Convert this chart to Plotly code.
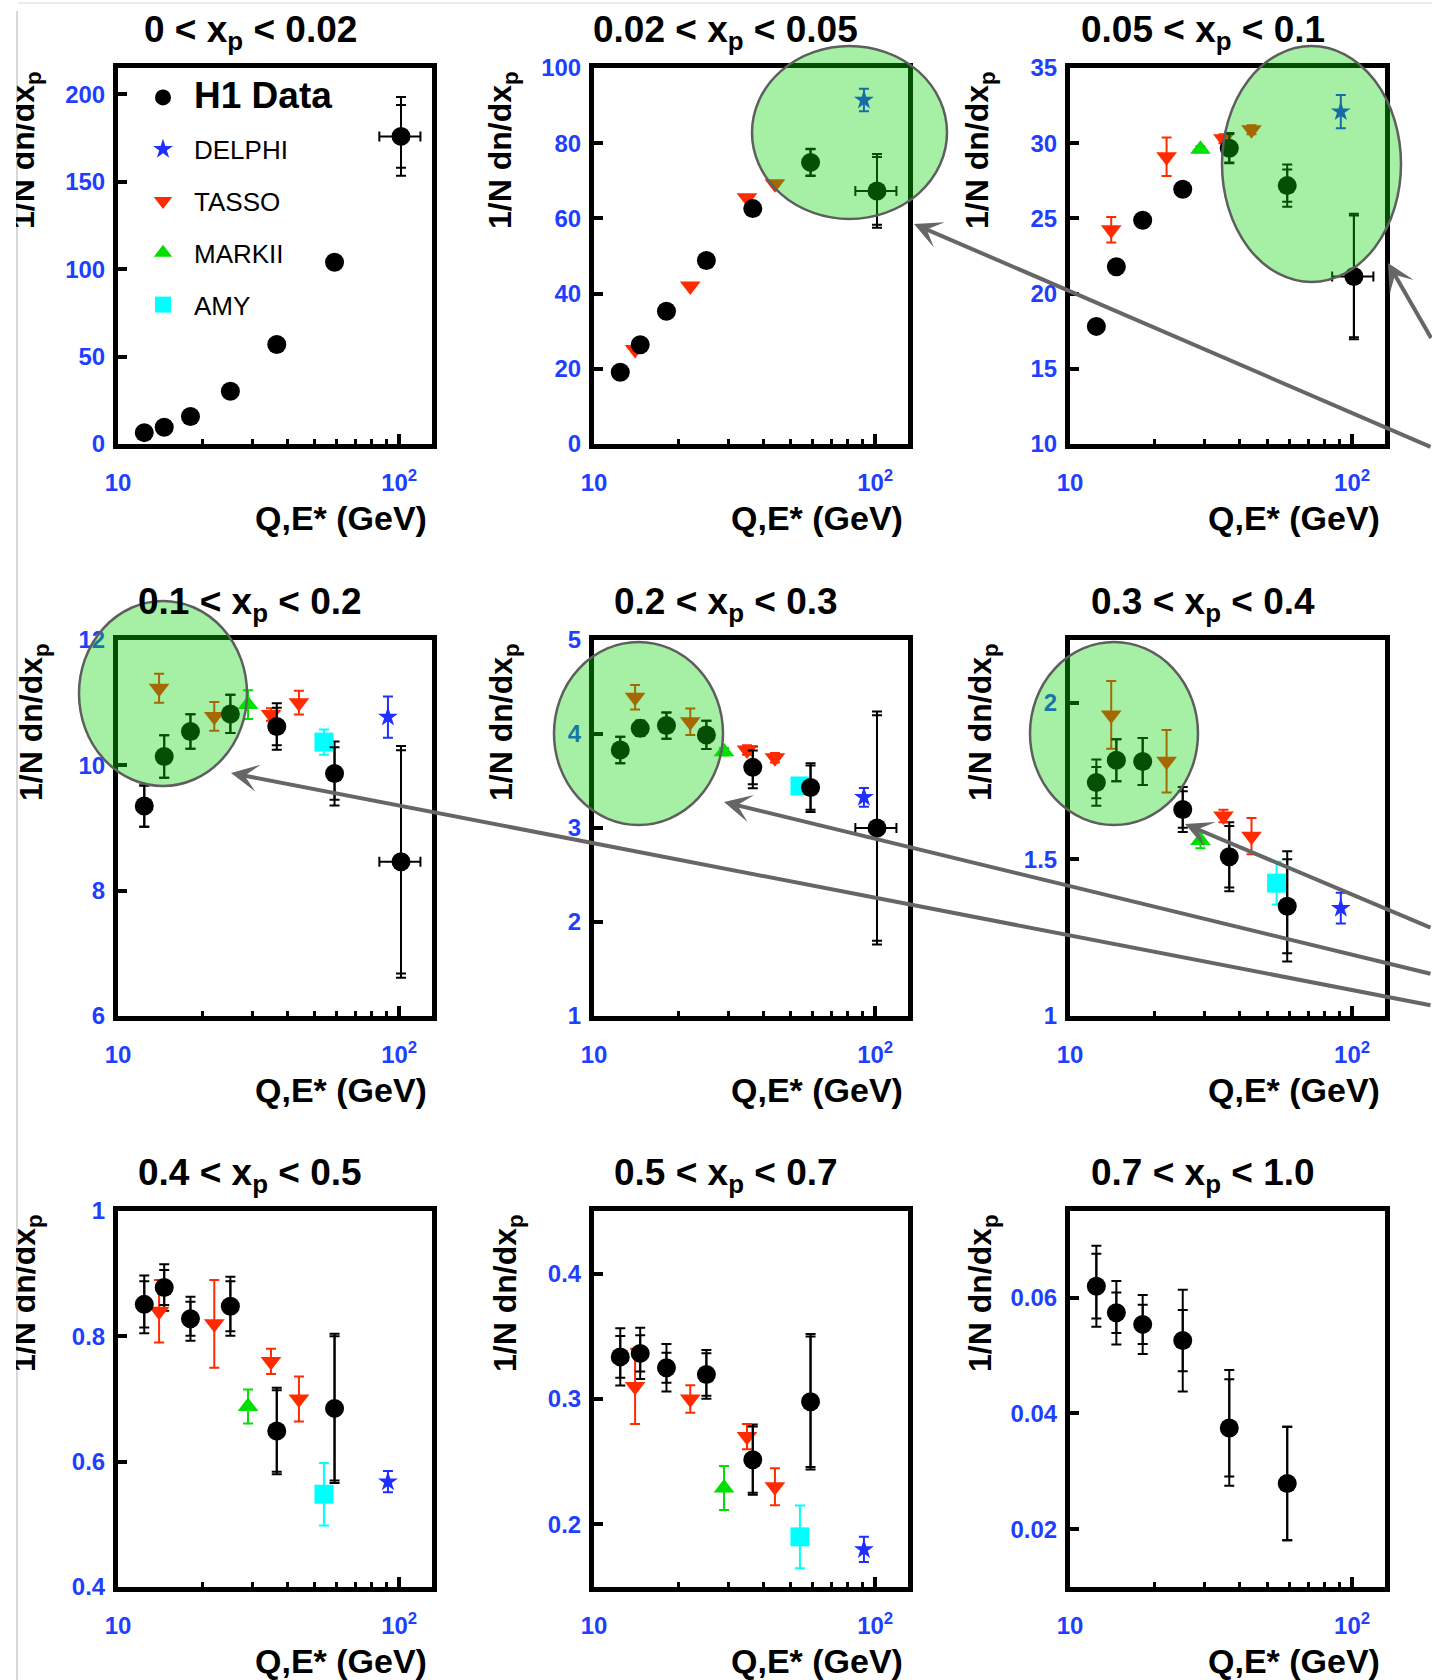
import plotly.graph_objects as go

W, H = 1432, 1680
FONT = "Liberation Sans, Arial, Helvetica, sans-serif"
BLUE_TXT = "#1f3fff"

# ---------------- data ----------------
PANEL_TITLES = [
    "0 < x<sub>p</sub> < 0.02", "0.02 < x<sub>p</sub> < 0.05", "0.05 < x<sub>p</sub> < 0.1",
    "0.1 < x<sub>p</sub> < 0.2", "0.2 < x<sub>p</sub> < 0.3", "0.3 < x<sub>p</sub> < 0.4",
    "0.4 < x<sub>p</sub> < 0.5", "0.5 < x<sub>p</sub> < 0.7", "0.7 < x<sub>p</sub> < 1.0",
]
X_TITLE = "Q,E* (GeV)"
Y_TITLE = "1/N dn/dx<sub>p</sub>"
X_TICKS = [10, 100]
X_TICKTEXT = ["10", "10<sup>2</sup>"]
X_MINOR = [20, 30, 40, 50, 60, 70, 80, 90]

Q_H1 = [12.4, 14.6, 18.1, 25.1, 36.7, 58.9, 101.5]
Q_H1_LAST_ERR_MINUS = 16.5
Q_H1_LAST_ERR_PLUS = 17.5
E_TASSO = [14, 22, 35, 44]
E_MARKII = [29]
E_AMY = [54]
E_DELPHI = [91.2]

H1_Y = [
    [6.5, 9.6, 15.7, 30.2, 56.9, 103.9, 175.9],
    [19.1, 26.4, 35.3, 48.8, 62.6, 74.9, 67.3],
    [17.82, 21.78, 24.88, 26.94, 29.67, 27.18, 21.14],
    [9.35, 10.14, 10.54, 10.82, 10.62, 9.87, 8.46],
    [3.83, 4.06, 4.09, 3.99, 3.645, 3.43, 3.0],
    [1.745, 1.816, 1.812, 1.659, 1.508, 1.35],
    [0.851, 0.878, 0.828, 0.848, 0.649, 0.685],
    [0.3336, 0.3364, 0.3249, 0.3196, 0.2516, 0.2978],
    [0.0620, 0.0574, 0.0554, 0.0526, 0.0375, 0.0279],
]
H1_STAT = [
    [1, 1, 1, 1, 1, 1, 18.0],
    [0.5, 0.5, 0.6, 0.8, 1.0, 3.5, 9.0],
    [0.3, 0.3, 0.3, 0.3, 0.95, 1.07, 4.05],
    [0.33, 0.34, 0.275, 0.305, 0.30, 0.42, 1.78],
    [0.14, 0.08, 0.14, 0.15, 0.18, 0.235, 1.2],
    [0.05, 0.067, 0.075, 0.058, 0.098, 0.15],
    [0.037, 0.028, 0.027, 0.04, 0.065, 0.115],
    [0.0167, 0.0145, 0.012, 0.017, 0.0265, 0.052],
    [0.0056, 0.0035, 0.0034, 0.0053, 0.0084, 0.0098],
]
H1_TOT = [
    [1, 1, 1, 1, 1, 1, 22.5],
    [0.5, 0.5, 0.6, 0.8, 1.0, 3.6, 9.8],
    [0.3, 0.3, 0.3, 0.3, 1.0, 1.4, 4.17],
    [0.33, 0.34, 0.275, 0.305, 0.37, 0.51, 1.85],
    [0.14, 0.08, 0.14, 0.15, 0.223, 0.26, 1.24],
    [0.074, 0.067, 0.075, 0.072, 0.11, 0.176],
    [0.046, 0.037, 0.035, 0.047, 0.069, 0.119],
    [0.0228, 0.0205, 0.019, 0.0195, 0.028, 0.054],
    [0.007, 0.0055, 0.0051, 0.0088, 0.01, 0.0098],
]

TASSO_Y = [None,
           [25.1, 42.0, 65.5, 69.2],
           [24.25, 29.1, 30.3, 30.9],
           [11.23, 10.78, 10.81, 11.0],
           [4.39, 4.13, 3.83, 3.747],
           [1.961, 1.813, 1.638, 1.574],
           [0.84, 0.82, 0.76, 0.70],
           [0.31, 0.30, 0.27, 0.23],
           None]
TASSO_ERR = [None,
             [0.4, 0.4, 0.4, 0.4],
             [0.85, 1.28, 0.3, 0.3],
             [0.23, 0.23, 0.1, 0.19],
             [0.13, 0.14, 0.05, 0.05],
             [0.108, 0.1, 0.02, 0.058],
             [0.05, 0.07, 0.02, 0.036],
             [0.03, 0.011, 0.01, 0.0147],
             None]
MARKII_Y = [None, None, [29.6], [10.97], [3.81], [1.56], [0.688], [0.229], None]
MARKII_ERR = [None, None, [0.2], [0.23], [0.04], [0.025], [0.027], [0.0175], None]
AMY_Y = [None, None, None, [10.37], [3.447], [1.424], [0.548], [0.190], None]
AMY_ERR = [None, None, None, [0.2], [0.04], [0.068], [0.05], [0.025], None]
DELPHI_Y = [None, [91.5], [32.1], [10.77], [3.326], [1.344], [0.568], [0.180], None]
DELPHI_ERR = [None, [3.0], [1.1], [0.33], [0.1], [0.049], [0.017], [0.01], None]

Y_RANGES = [[0, 215], [0, 100], [10, 35], [6, 12], [1, 5], [1, 2.2],
            [0.4, 1.0], [0.15, 0.45], [0.01, 0.075]]
Y_TICKS = [[0, 50, 100, 150, 200], [0, 20, 40, 60, 80, 100], [10, 15, 20, 25, 30, 35],
           [6, 8, 10, 12], [1, 2, 3, 4, 5], [1, 1.5, 2], [0.4, 0.6, 0.8, 1],
           [0.2, 0.3, 0.4], [0.02, 0.04, 0.06]]

# ---------------- styling / layout (pixels) ----------------
COL_PX = [(118, 432), (594, 908), (1070, 1385)]
ROW_PX = [(68, 444), (640, 1016), (1211, 1587)]
YLABEL_CX = [26, 503, 980, 33, 503, 982, 26, 507, 982]

EXPERIMENTS = [
    # name, energies, values, errors, symbol, color, size
    ("DELPHI", E_DELPHI, DELPHI_Y, DELPHI_ERR, "star", "#1f2fff", 15),
    ("TASSO", E_TASSO, TASSO_Y, TASSO_ERR, "triangle-down", "#ff2a00", 18),
    ("MARKII", E_MARKII, MARKII_Y, MARKII_ERR, "triangle-up", "#00e000", 18),
    ("AMY", E_AMY, AMY_Y, AMY_ERR, "square", "#00ffff", 19),
]


def pxx(p):
    return p / W


def pxy(p):
    return 1 - p / H


fig = go.Figure()
annotations = []
shapes = []

for i in range(9):
    r, c = divmod(i, 3)
    xs = "x" if i == 0 else f"x{i + 1}"
    ys = "y" if i == 0 else f"y{i + 1}"
    n = len(H1_Y[i])
    q = Q_H1[:n]

    # H1 total errors (outer caps)
    fig.add_trace(go.Scatter(
        x=q, y=H1_Y[i], mode="markers", xaxis=xs, yaxis=ys, showlegend=False,
        marker=dict(size=19, color="rgba(0,0,0,0)"),
        error_y=dict(type="data", array=H1_TOT[i], color="black", thickness=2, width=5),
    ))
    for name, e, yv, ye, sym, col, sz in EXPERIMENTS:
        if yv[i] is None:
            continue
        fig.add_trace(go.Scatter(
            x=e, y=yv[i], mode="markers", xaxis=xs, yaxis=ys, showlegend=False,
            marker=dict(symbol=sym, size=sz, color=col),
            error_y=dict(type="data", array=ye[i], color=col, thickness=2, width=5),
        ))
    # H1 data points with stat errors
    ex = None
    if n == 7:
        ex = dict(type="data", symmetric=False,
                  array=[0] * 6 + [Q_H1_LAST_ERR_PLUS],
                  arrayminus=[0] * 6 + [Q_H1_LAST_ERR_MINUS],
                  color="black", thickness=2, width=5)
    fig.add_trace(go.Scatter(
        x=q, y=H1_Y[i], mode="markers", xaxis=xs, yaxis=ys, showlegend=False,
        marker=dict(size=19, color="black"),
        error_y=dict(type="data", array=H1_STAT[i], color="black", thickness=2, width=5),
        error_x=ex,
    ))

    x0, x1 = COL_PX[c]
    y0, y1 = ROW_PX[r]
    axfont = dict(family=FONT, size=24, color=BLUE_TXT, weight="bold")
    fig.layout[("xaxis" if i == 0 else f"xaxis{i + 1}")] = dict(
        type="log", range=[1, 2.1167], domain=[pxx(x0), pxx(x1)], anchor=ys,
        tickvals=X_TICKS, ticktext=X_TICKTEXT, ticks="inside", ticklen=10, tickwidth=4,
        tickcolor="black", showline=True, linewidth=5, linecolor="black", mirror=True,
        showgrid=False, zeroline=False, tickfont=axfont, ticklabelstandoff=13,
        automargin=False,
        minor=dict(tickvals=X_MINOR, ticks="inside", ticklen=5, tickwidth=3,
                   tickcolor="black", showgrid=False),
    )
    fig.layout[("yaxis" if i == 0 else f"yaxis{i + 1}")] = dict(
        range=Y_RANGES[i], domain=[pxy(y1), pxy(y0)], anchor=xs,
        tickvals=Y_TICKS[i], ticks="inside", ticklen=9, tickwidth=4, tickcolor="black",
        showline=True, linewidth=5, linecolor="black", mirror=True,
        showgrid=False, zeroline=False, tickfont=axfont, ticklabelstandoff=3,
        automargin=False,
    )

    # panel title
    annotations.append(dict(
        xref="paper", yref="paper", x=pxx((x0 + x1) / 2 - 25), y=pxy(y0 - 36),
        xanchor="center", yanchor="middle", showarrow=False, text=PANEL_TITLES[i],
        font=dict(family=FONT, size=37, color="black", weight="bold"),
    ))
    # x-axis title
    annotations.append(dict(
        xref="paper", yref="paper", x=pxx(x1 - 3), y=pxy(y1 + 74),
        xanchor="right", yanchor="middle", showarrow=False, text=X_TITLE,
        font=dict(family=FONT, size=34, color="black", weight="bold"),
    ))
    # y-axis title
    annotations.append(dict(
        xref="paper", yref="paper", x=pxx(YLABEL_CX[i]), y=pxy(y0 + 1),
        xanchor="center", yanchor="top", showarrow=False, text=Y_TITLE, textangle=-90,
        font=dict(family=FONT, size=32, color="black", weight="bold"),
    ))

# legend-only traces in the first panel
LEGEND_ITEMS = [
    ('<span style="font-size:37px"><b>H1 Data</b></span>', "circle", "black", 19),
    ("DELPHI", "star", "#1f2fff", 15),
    ("TASSO", "triangle-down", "#ff2a00", 18),
    ("MARKII", "triangle-up", "#00e000", 18),
    ("AMY", "square", "#00ffff", 18),
]
for k, (nm, sym, col, sz) in enumerate(LEGEND_ITEMS):
    fig.add_trace(go.Scatter(
        x=[None], y=[None], mode="markers", name=nm, xaxis="x", yaxis="y",
        marker=dict(symbol=sym, size=sz, color=col), legendgroup=f"g{k}", showlegend=True,
    ))

# highlight ellipses (pixel boxes)
ELLIPSES = [(752, 46, 947, 219), (1222, 46, 1401, 282), (79, 601, 247, 786),
            (554, 642, 723, 825), (1030, 642, 1198, 825)]
for (ex0, ey0, ex1, ey1) in ELLIPSES:
    shapes.append(dict(type="circle", xref="paper", yref="paper", layer="above",
                       x0=pxx(ex0), x1=pxx(ex1), y0=pxy(ey1), y1=pxy(ey0),
                       fillcolor="rgba(12,215,12,0.37)",
                       line=dict(color="#5e5e5e", width=2.5)))

# arrows from the right edge: (tip_x, tip_y, tail_y)
ARROWS = [(914, 224, 442), (1388, 263, 322), (231, 773, 1003), (724, 802, 971), (1185, 824, 923)]
for (tx, ty, taily) in ARROWS:
    annotations.append(dict(
        xref="paper", yref="paper", x=pxx(tx), y=pxy(ty), text="", showarrow=True,
        ax=1445 - tx, ay=taily - ty + (taily - ty) / (1432 - tx) * 13,
        arrowhead=3, arrowsize=1.15, arrowwidth=4, arrowcolor="#666666", standoff=0,
    ))

# clip left edge like the cropped original
annotations.append(dict(
    xref="paper", yref="paper", x=pxx(16), y=1.0, xanchor="right", yanchor="top",
    text=" ", showarrow=False, width=60, height=1720, bgcolor="white", borderpad=0,
    borderwidth=0,
))
shapes.append(dict(type="line", xref="paper", yref="paper", x0=pxx(17), x1=pxx(17),
                   y0=pxy(11), y1=0, line=dict(color="#d8d8d8", width=2)))
shapes.append(dict(type="line", xref="paper", yref="paper", x0=pxx(18), x1=1,
                   y0=pxy(3), y1=pxy(3), line=dict(color="#ececec", width=2)))

fig.update_layout(
    width=W, height=H, margin=dict(l=0, r=0, t=0, b=0, autoexpand=False),
    paper_bgcolor="white", plot_bgcolor="white",
    annotations=annotations, shapes=shapes,
    showlegend=True,
    legend=dict(x=pxx(132), y=pxy(74), xanchor="left", yanchor="top",
                bgcolor="rgba(0,0,0,0)", tracegroupgap=15, traceorder="grouped",
                itemwidth=52,
                font=dict(family=FONT, size=26, color="black"), itemsizing="trace"),
)

fig.write_html("out.html", config={"displayModeBar": False},
               post_script="document.body.style.margin='0px';document.body.style.padding='0px';")
